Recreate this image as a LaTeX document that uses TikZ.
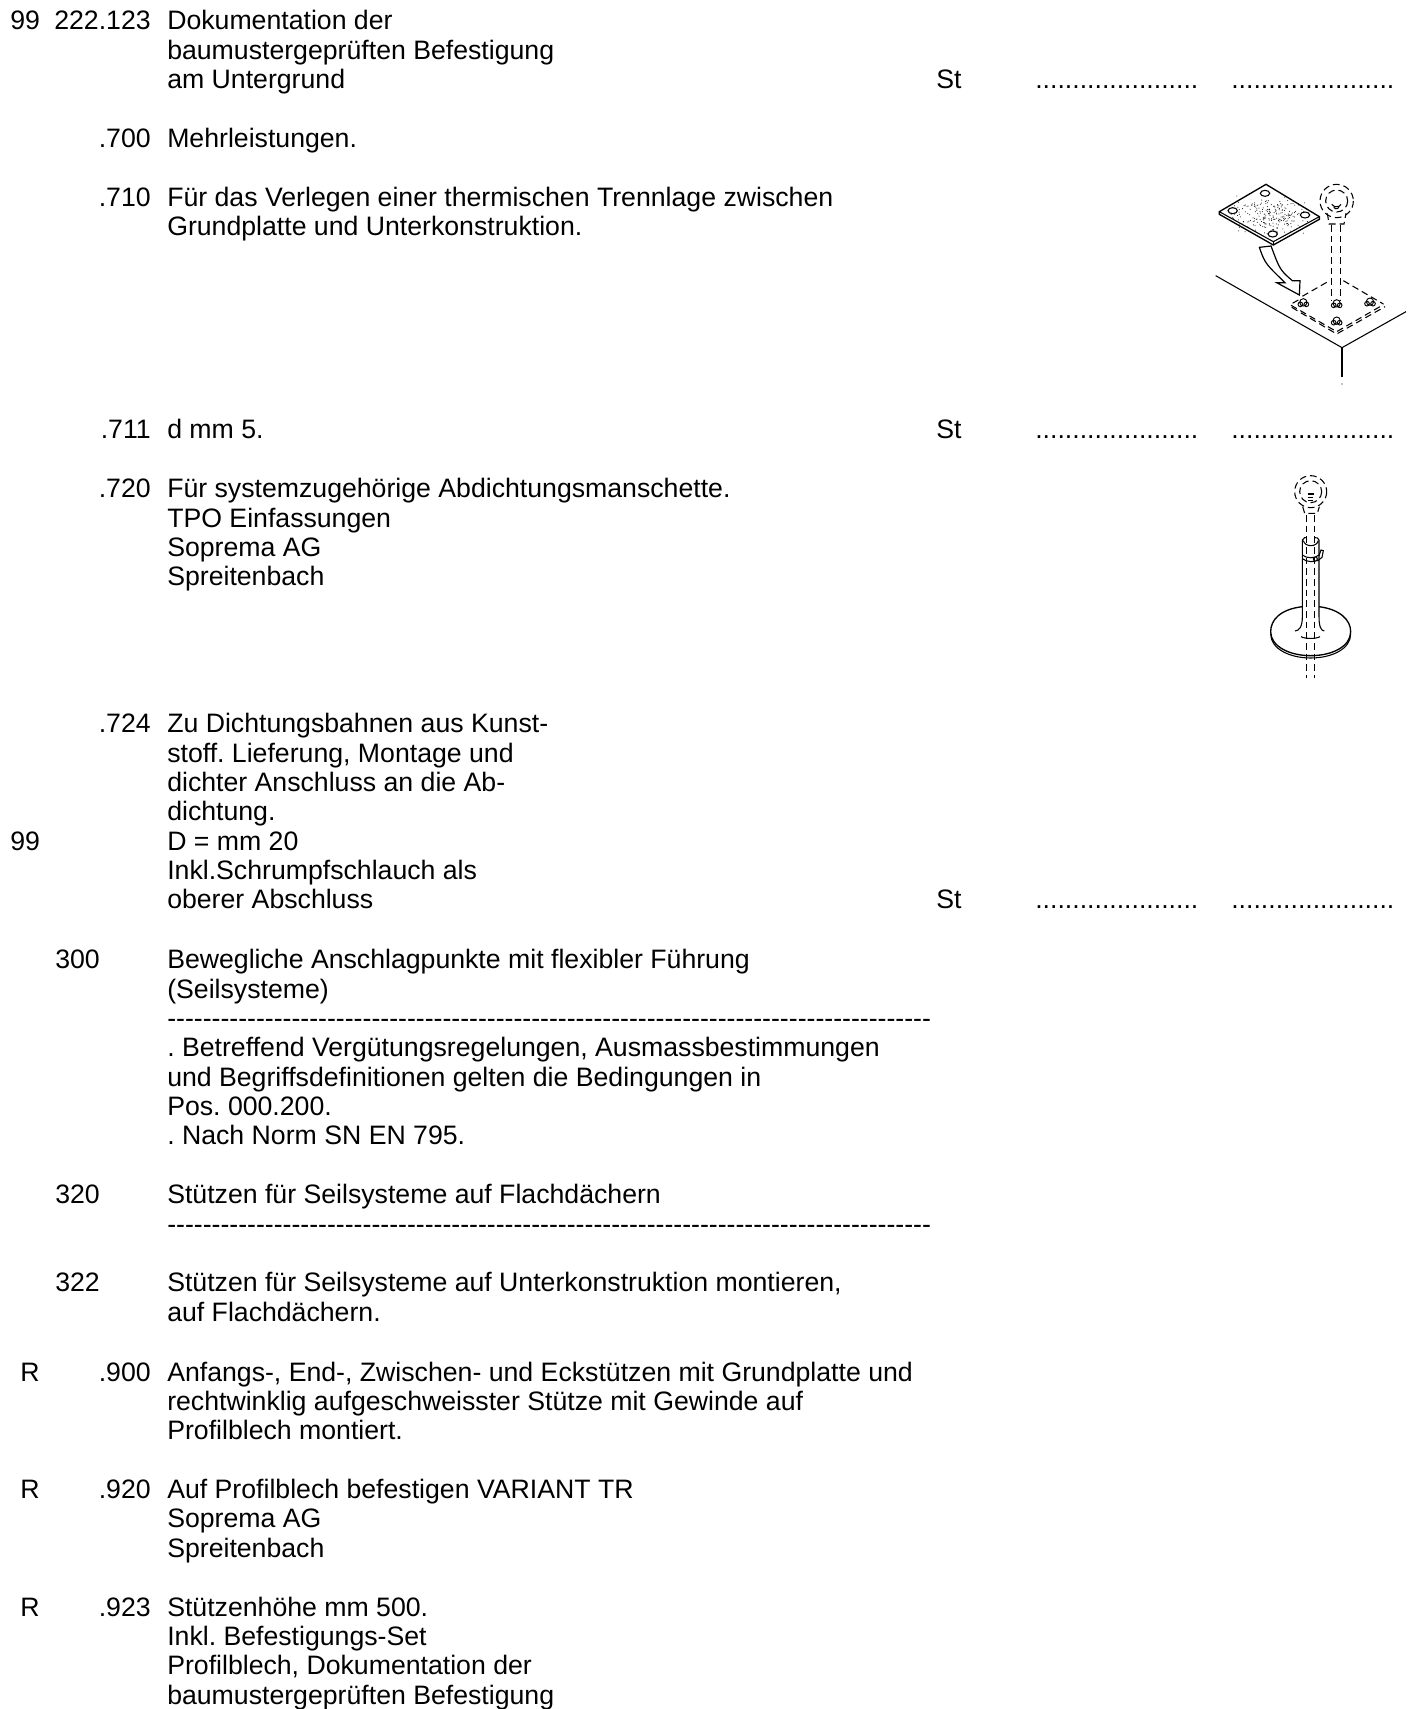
\documentclass[tikz,border=0pt]{standalone}
\usepackage{fontspec}
\setmainfont{Liberation Sans}
\newfontfamily\plainfont{Liberation Sans}
\newcommand{\dotrow}{......................}
\newcommand{\dashrow}{{\plainfont --------------------------------------------------------------------------------------}}
\tikzset{
    txt/.style={anchor=base west,inner sep=0pt,font=\fontsize{20}{24}\selectfont},
    num/.style={txt,anchor=base east},
    fine/.style={line width=0.8pt},
    hid/.style={line width=0.8pt,dash pattern=on 5pt off 3pt}
}
\begin{document}
\frenchspacing
\begin{tikzpicture}[x=0.75pt,y=-0.75pt,declare function={rowy(\k)=30+29.37*\k-2.2*(\k>10)*(\k<31)-1.1*(\k>31)*(\k<46);}]
    \useasboundingbox (0,0) rectangle (1409,1709);
    \foreach \k/\line [count=\i] in {0/Dokumentation der,1/baumustergeprüften Befestigung,2/am Untergrund,4/Mehrleistungen.,6/Für das Verlegen einer thermischen Trennlage zwischen,7/Grundplatte und Unterkonstruktion.,14/d mm 5.,16/Für systemzugehörige Abdichtungsmanschette.,17/TPO Einfassungen,18/Soprema AG,19/Spreitenbach,24/Zu Dichtungsbahnen aus Kunst-,25/{stoff. Lieferung, Montage und},26/dichter Anschluss an die Ab-,27/dichtung.,28/D = mm 20,29/Inkl.Schrumpfschlauch als,30/oberer Abschluss,32/Bewegliche Anschlagpunkte mit flexibler Führung,33/(Seilsysteme),34/\dashrow,35/{. Betreffend Vergütungsregelungen, Ausmassbestimmungen},36/und Begriffsdefinitionen gelten die Bedingungen in,37/Pos. 000.200.,38/. Nach Norm SN EN 795.,40/Stützen für Seilsysteme auf Flachdächern,41/\dashrow,43/{Stützen für Seilsysteme auf Unterkonstruktion montieren,},44/auf Flachdächern.,46/{Anfangs-, End-, Zwischen- und Eckstützen mit Grundplatte und},47/rechtwinklig aufgeschweisster Stütze mit Gewinde auf,48/Profilblech montiert.,50/Auf Profilblech befestigen VARIANT TR,51/Soprema AG,52/Spreitenbach,54/Stützenhöhe mm 500.,55/Inkl. Befestigungs-Set,56/{Profilblech, Dokumentation der},57/baumustergeprüften Befestigung}
        \node[txt] (line\i) at (167,{rowy(\k)}) {\line};
    \foreach \k/\pos in {0/222.123,4/.700,6/.710,14/.711,16/.720,24/.724,46/.900,50/.920,54/.923}
        \node[num] (pos\k) at (151,{rowy(\k)}) {\pos};
    \foreach \k in {0,28}
        \node[txt] (kag\k) at (10,{rowy(\k)}) {99};
    \foreach \k/\pos in {32/300,40/320,43/322}
        \node[txt] (head\k) at (55,{rowy(\k)}) {\pos};
    \foreach \k in {46,50,54}
        \node[txt] (res\k) at (20,{rowy(\k)}) {R};
    \foreach \k in {2,14,30} {
        \node[txt] (unit\k) at (936,{rowy(\k)}) {St};
        \node[txt] (price\k) at (1035,{rowy(\k)}) {\dotrow};
        \node[txt] (sum\k) at (1231,{rowy(\k)}) {\dotrow};
    }
    \begin{scope}[shift={(1190,160)},x=0.25pt,y=-0.25pt,fine]
        \draw (77,347) -- (456,563) -- (648,455);
        \draw (456,563) -- (456,650);
        \fill (456,672) circle (2);
        \draw[fill=white,line width=1pt] (88,155) -- (228,73) -- (388,170) -- (388,178) -- (250,255) -- (88,163) -- cycle;
        \draw (88,155) -- (250,245) -- (388,170);
        \draw (250,245) -- (250,255);
        \pgfmathsetseed{4711}
        \foreach \i in {1,...,240}
            \fill ({88+(0.1+0.8*rnd)*140+(0.08+0.84*rnd)*162},{155-(0.1+0.8*rnd)*70+(0.08+0.84*rnd)*90}) circle (1.5);
        \foreach \c/\hole in {225/100,128/152,345/165,248/222}
            \draw[fill=white] (\c,\hole) ellipse (14 and 9);
        \draw[fill=white,line width=0.9pt] (208,262) .. controls (225,310) .. (285,368) -- (260,368) -- (328,405) -- (330,362) -- (307,362) .. controls (270,330) .. (243,258) -- cycle;
        \draw[hid] (410,367) -- (335,410);
        \draw[hid] (460,362) -- (580,432);
        \draw[hid] (325,420) -- (300,434) -- (440,515) -- (580,434);
        \draw[hid] (305,442) -- (440,522) -- (585,440);
        \draw[hid] (425,195) -- (425,420);
        \draw[hid] (452,195) -- (452,420);
        \draw[hid] (440,123) circle (50);
        \draw[hid] (440,123) circle (33);
        \draw (425,133) arc (150:30:16);
        \draw (431,142) arc (150:30:9);
        \draw[hid] (412,160) -- (417,192) -- (462,192) -- (468,160);
        \foreach \c/\bolt in {340/427,540/425,440/482,440/430}
            \draw[fill=white,line width=0.7pt] (\c,\bolt) circle (11) (\c-9,\bolt+6) circle (7) (\c+9,\bolt+6) circle (7);
    \end{scope}
    \begin{scope}[shift={(1240,460)},x=0.25pt,y=-0.25pt,fine]
        \draw[line width=1pt] (187,440) .. controls (120,448) and (92,480) .. (92,515) .. controls (92,560) and (150,587) .. (212,587) .. controls (275,587) and (332,560) .. (332,515) .. controls (332,480) and (300,448) .. (237,440);
        \draw (92,522) .. controls (92,567) and (150,594) .. (212,594) .. controls (275,594) and (332,567) .. (332,522);
        \draw (187,240) -- (187,470) .. controls (187,500) and (178,512) .. (165,513);
        \draw (237,240) -- (237,470) .. controls (237,500) and (243,512) .. (253,513);
        \draw (183,530) .. controls (195,537) and (228,537) .. (240,530);
        \draw (187,240) .. controls (190,232) and (197,232) .. (200,233);
        \draw (225,233) .. controls (230,232) and (235,234) .. (237,240);
        \draw (190,242) .. controls (195,262) and (230,262) .. (235,242);
        \draw (187,285) .. controls (200,296) and (225,296) .. (237,285);
        \draw (187,296) .. controls (200,307) and (225,307) .. (232,300);
        \draw[fill=white] (226,297) circle (6);
        \draw (237,287) -- (243,270) -- (250,272) -- (246,292) -- (232,303);
        \foreach \rod in {199,224}
            \draw[hid] (\rod,165) -- (\rod,655);
        \draw[hid] (212,95) circle (48);
        \draw[hid] (212,95) circle (33);
        \draw (203,102) -- (221,102) (204,112) -- (220,112) (205,122) -- (219,122);
        \draw[hid] (188,140) -- (194,160) -- (232,160) -- (238,140);
    \end{scope}
\end{tikzpicture}
\end{document}
